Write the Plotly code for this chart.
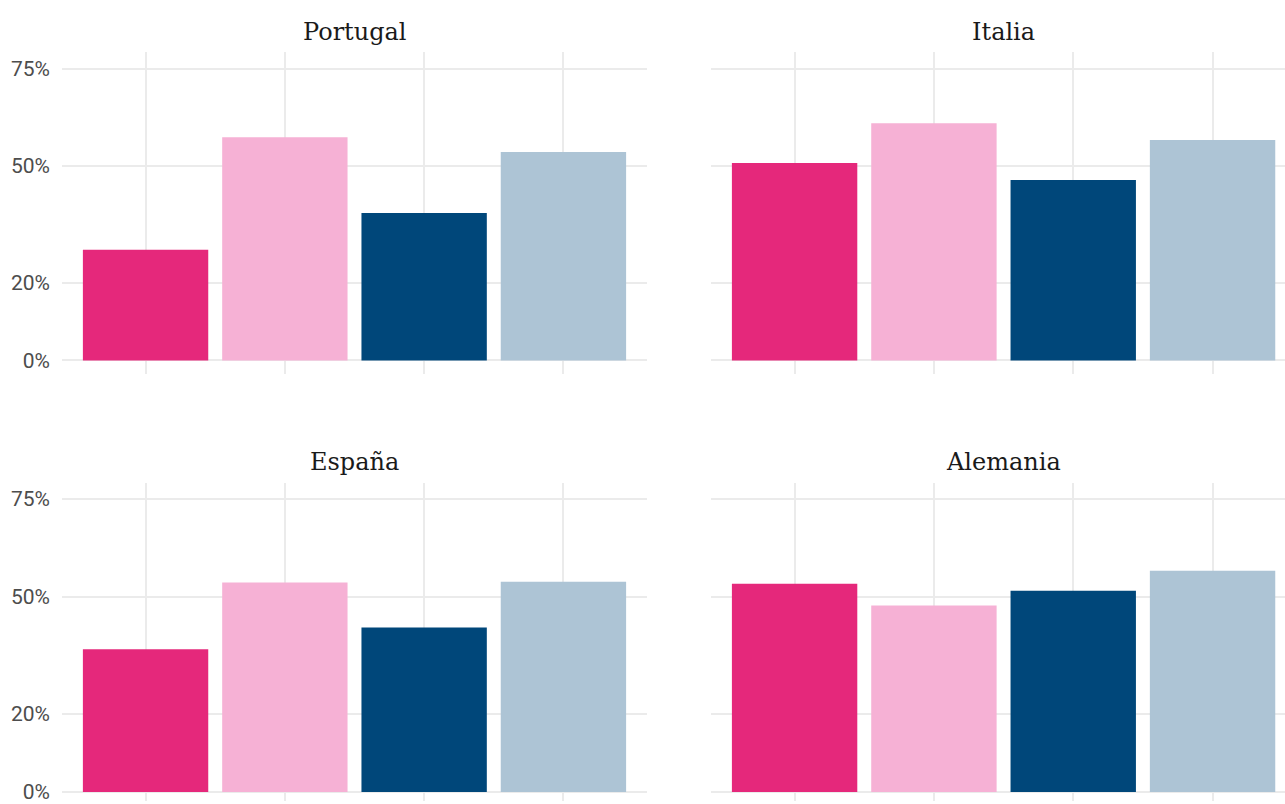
import plotly.graph_objects as go

countries = ["Portugal", "Italia", "España", "Alemania"]
groups = ["Grupo 1", "Grupo 2", "Grupo 3", "Grupo 4"]
colors = ["#E5287B", "#F6B1D5", "#00477A", "#ADC4D5"]

portugal = [28.5, 57.4, 37.9, 53.6]
italia = [50.8, 61.0, 46.4, 56.7]
espana = [36.5, 53.6, 42.1, 53.8]
alemania = [53.3, 47.7, 51.5, 56.6]
values = [portugal, italia, espana, alemania]

tick_vals = [0, 20, 50, 75]
tick_text = ["0%", "20%", "50%", "75%"]

W, H = 1285, 804
xdom = [[62 / W, 647 / W], [711 / W, 1.0]]
ydom = [[1 - 375 / H, 1 - 52 / H], [0.0, 1 - 485 / H]]
xranges = [[0.4, 4.6], [0.4, 4.52]]
yranges = [[-3.4, 79.4], [-2.3, 79.0]]
title_px = [32, 464]

fig = go.Figure()
for i, (country, vals) in enumerate(zip(countries, values)):
    r, c = divmod(i, 2)
    n = i + 1
    xa = "x" if n == 1 else f"x{n}"
    ya = "y" if n == 1 else f"y{n}"
    fig.add_trace(go.Bar(
        x=[1, 2, 3, 4], y=vals, width=0.9,
        marker=dict(color=colors, line=dict(width=0)),
        xaxis=xa, yaxis=ya, showlegend=False,
        customdata=groups,
        hovertemplate="%{customdata}: %{y:.1f}%<extra>" + country + "</extra>",
    ))
    axis_x = dict(domain=xdom[c], range=xranges[c], anchor=ya,
                  tickvals=[1, 2, 3, 4], showticklabels=False,
                  showgrid=True, gridcolor="#EBEBEB", gridwidth=1.8,
                  zeroline=False, showline=False, ticks="", fixedrange=True)
    axis_y = dict(domain=ydom[r], range=yranges[r], anchor=xa,
                  tickvals=tick_vals, ticktext=tick_text,
                  showticklabels=(c == 0),
                  tickfont=dict(family="Roboto", size=21, color="#4D4D4D"),
                  showgrid=True, gridcolor="#EBEBEB", gridwidth=1.8,
                  zeroline=False, showline=False, ticks="", ticklabelstandoff=11,
                  ticklabeloverflow="allow", fixedrange=True)
    fig.update_layout(**{("xaxis" if n == 1 else f"xaxis{n}"): axis_x,
                         ("yaxis" if n == 1 else f"yaxis{n}"): axis_y})
    fig.add_annotation(
        text=country, xref="paper", yref="paper",
        x=(xdom[c][0] + (xdom[c][0] + 585 / W)) / 2, y=1 - title_px[r] / H,
        xanchor="center", yanchor="middle", showarrow=False,
        font=dict(family="DejaVu Serif", size=24, color="#1A1A1A"),
    )

fig.update_layout(
    width=W, height=H,
    margin=dict(l=0, r=0, t=0, b=0),
    plot_bgcolor="white", paper_bgcolor="white",
    bargap=0.1,
)

fig.write_html("out.html", config={"displayModeBar": False},
               post_script="document.body.style.margin='0';document.body.style.overflow='hidden';")
